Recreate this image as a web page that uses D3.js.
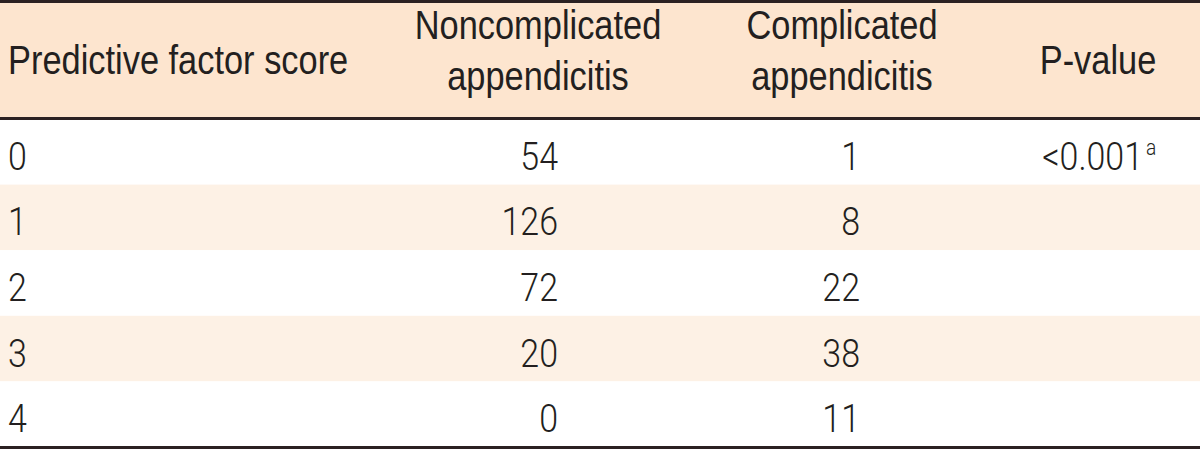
<!DOCTYPE html>
<html>
<head>
<meta charset="utf-8">
<script src="https://cdn.jsdelivr.net/npm/d3@7"></script>
<style>
  html, body { margin: 0; padding: 0; background: #ffffff; }
  svg { display: block; }
</style>
</head>
<body>
<svg id="chart" width="1200" height="450"></svg>
<script>
// ---- data ----
const headerLines = [
  ["Predictive factor score"],
  ["Noncomplicated", "appendicitis"],
  ["Complicated", "appendicitis"],
  ["P-value"]
];
const scores = ["0", "1", "2", "3", "4"];
const noncomplicated = [54, 126, 72, 20, 0];
const complicated = [1, 8, 22, 38, 11];
const pValues = ["<0.001", "", "", "", ""];
const pNotes = ["a", "", "", "", ""];

// ---- layout ----
const W = 1200, H = 450;
const headerTop = 2, headerBottom = 118, tableBottom = 447;
const svg = d3.select("#chart");

const headFont = "'Liberation Sans', Arial, sans-serif";
const bodyFont = "Roboto, 'Liberation Sans', sans-serif";
const ink = "#231f20";

const colX = d3.scaleOrdinal()
  .domain(["score", "non", "comp", "p"])
  .range([8, 538, 842, 1098]);
const numRight = d3.scaleOrdinal()
  .domain(["non", "comp"])
  .range([558, 860]);

const rowY = d3.scaleBand()
  .domain(scores)
  .range([headerBottom + 1, tableBottom])
  .paddingInner(0);

// header background
svg.append("rect")
  .attr("x", 0).attr("y", headerTop)
  .attr("width", W).attr("height", headerBottom - headerTop)
  .attr("fill", "#fde5cf");

// row stripes
svg.selectAll("rect.stripe")
  .data(scores)
  .join("rect")
  .attr("class", "stripe")
  .attr("x", 0)
  .attr("y", d => rowY(d))
  .attr("width", W)
  .attr("height", rowY.bandwidth())
  .attr("fill", (d, i) => i % 2 === 1 ? "#fdf1e5" : "#ffffff");

// rules
const rules = [
  { y: 1.5, w: 3 },
  { y: headerBottom + 0.5, w: 3 },
  { y: tableBottom + 0.5, w: 3 }
];
svg.selectAll("line.rule")
  .data(rules)
  .join("line")
  .attr("class", "rule")
  .attr("x1", 0).attr("x2", W)
  .attr("y1", d => d.y).attr("y2", d => d.y)
  .attr("stroke", "#2b2122")
  .attr("stroke-width", d => d.w);

// header text (condensed)
const hsx = 0.86;
const headKeys = ["score", "non", "comp", "p"];
const headG = svg.append("g").attr("font-family", headFont).attr("font-size", 40).attr("fill", ink);
headerLines.forEach((lines, i) => {
  const key = headKeys[i];
  const anchor = i === 0 ? "start" : "middle";
  const baselines = lines.length === 1 ? [74] : [39, 90];
  lines.forEach((t, j) => {
    headG.append("text")
      .attr("transform", `translate(${colX(key)},${baselines[j]}) scale(${hsx},1)`)
      .attr("text-anchor", anchor)
      .text(t);
  });
});

// body text
const bodyG = svg.append("g").attr("font-family", bodyFont).attr("font-weight", 300)
  .attr("font-size", 39).attr("fill", ink);
const sx = 0.87;
const base = d => rowY(d) + rowY.bandwidth() / 2 + 18;

function put(x, y, anchor, txt) {
  return bodyG.append("text")
    .attr("transform", `translate(${x},${y}) scale(${sx},1)`)
    .attr("text-anchor", anchor)
    .text(txt);
}

scores.forEach((s, i) => {
  const y = base(s);
  put(colX("score"), y, "start", s);
  put(numRight("non"), y, "end", String(noncomplicated[i]));
  put(numRight("comp"), y, "end", String(complicated[i]));
  if (pValues[i]) {
    put(1143, y, "end", pValues[i]);
    bodyG.append("text")
      .attr("transform", `translate(1146,${y - 15}) scale(${sx},1)`)
      .attr("font-size", 22)
      .text(pNotes[i]);
  }
});
</script>
</body>
</html>
